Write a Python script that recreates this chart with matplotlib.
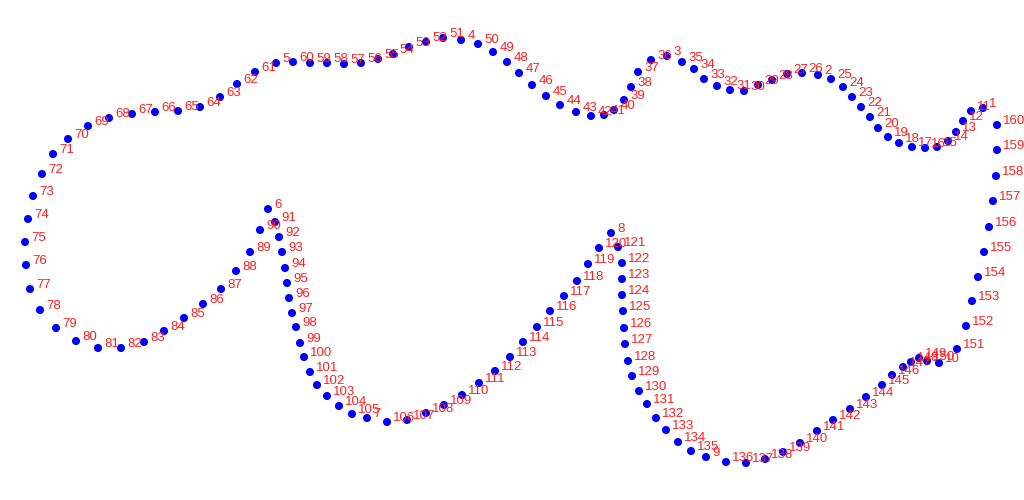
import matplotlib
matplotlib.use("Agg")
import matplotlib.pyplot as plt

# Track points 11..160, in order along the closed course
track_ids = list(range(11, 161))
track_x = [971, 963, 956, 948, 937, 925, 912, 899, 888, 878,
           870, 861, 852, 843, 831, 802, 787, 772, 758, 744,
           730, 717, 704, 694, 682, 651, 638, 631, 624, 614,
           604, 591, 576, 560, 546, 532, 519, 507, 493, 478,
           443, 426, 409, 393, 378, 361, 344, 327, 310, 293,
           255, 237, 220, 200, 178, 155, 132, 109, 88, 68,
           53, 42, 33, 28, 25, 26, 30, 40, 56, 76,
           98, 121, 144, 164, 184, 203, 221, 236, 250, 260,
           275, 279, 282, 285, 287, 289, 292, 296, 300, 304,
           310, 317, 327, 339, 352, 387, 407, 426, 444, 462,
           479, 495, 510, 523, 537, 550, 564, 577, 588, 599,
           618, 622, 622, 622, 623, 624, 625, 628, 632, 639,
           647, 656, 666, 678, 691, 726, 746, 765, 783, 800,
           817, 833, 850, 866, 882, 892, 903, 911, 919, 927,
           957, 966, 972, 978, 984, 989, 993, 996, 997, 997]
track_y = [111, 121, 132, 141, 147, 148, 147, 143, 137, 128,
           117, 107, 97, 87, 79, 73, 74, 80, 85, 91,
           90, 86, 79, 69, 62, 60, 72, 87, 100, 110,
           115, 116, 112, 105, 96, 85, 73, 62, 52, 44,
           38, 42, 47, 54, 59, 63, 64, 63, 63, 62,
           72, 84, 97, 107, 111, 112, 114, 118, 126, 139,
           154, 174, 196, 219, 242, 265, 289, 310, 328, 341,
           348, 348, 342, 331, 318, 304, 289, 271, 252, 230,
           222, 237, 252, 268, 283, 298, 313, 327, 343, 357,
           372, 385, 396, 406, 414, 422, 420, 413, 405, 395,
           383, 371, 357, 342, 327, 311, 296, 281, 264, 248,
           247, 263, 279, 295, 311, 328, 344, 361, 376, 391,
           404, 418, 430, 442, 451, 462, 463, 459, 452, 443,
           431, 420, 409, 397, 385, 375, 367, 362, 358, 361,
           349, 326, 301, 277, 252, 227, 201, 176, 150, 125]

# Waypoints 1..10
way_ids = list(range(1, 11))
way_x = [983, 818, 667, 461, 276, 268, 367, 611, 706, 939]
way_y = [108, 75, 56, 40, 63, 209, 418, 233, 457, 363]

fig = plt.figure(figsize=(10.24, 5.0), dpi=100)
ax = fig.add_axes([0, 0, 1, 1])
ax.set_xlim(0, 1024)
ax.set_ylim(500, 0)
ax.axis("off")

all_x = track_x + way_x
all_y = track_y + way_y
all_ids = track_ids + way_ids

ax.scatter(all_x, all_y, s=34, c="#0000ff", edgecolors="none", zorder=2)

for i, x, y in zip(all_ids, all_x, all_y):
    ax.annotate(str(i), (x, y), xytext=(4.5, 3), textcoords="offset points",
                ha="left", va="center", color="#ff2020",
                fontsize=9.5, family="Liberation Sans", zorder=3)

fig.savefig("out.png", dpi=100)
